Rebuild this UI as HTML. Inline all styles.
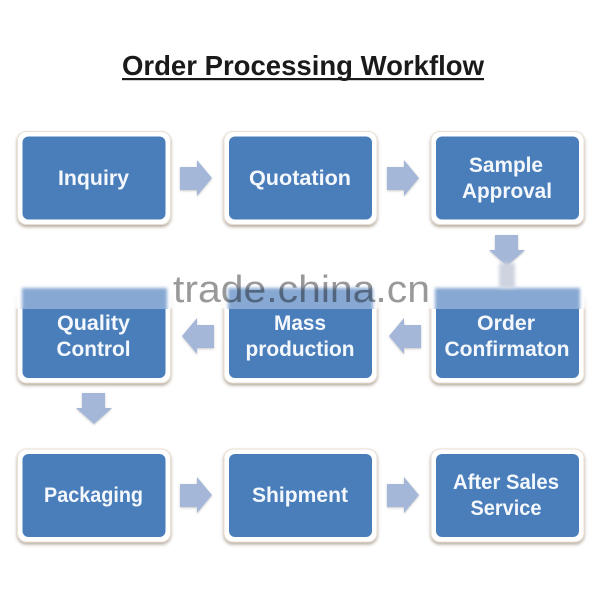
<!DOCTYPE html>
<html><head><meta charset="utf-8"><style>
html,body{margin:0;padding:0;background:#fff;width:600px;height:600px;overflow:hidden}
svg{display:block}
text{font-family:"Liberation Sans",sans-serif}
.t{fill:#f4f8fc;font-weight:bold;font-size:21px;text-anchor:middle}
</style></head><body>
<svg width="600" height="600" viewBox="0 0 600 600" xmlns="http://www.w3.org/2000/svg">
<defs>
<filter id="s" x="-10%" y="-10%" width="120%" height="125%"><feDropShadow dx="0" dy="2" stdDeviation="1.5" flood-color="#8a7a68" flood-opacity=".65"/></filter>
<filter id="a" x="-20%" y="-20%" width="140%" height="140%"><feDropShadow dx="0" dy="1" stdDeviation="1" flood-color="#777" flood-opacity=".4"/></filter>
<filter id="b" x="-50%" y="-30%" width="200%" height="160%"><feGaussianBlur stdDeviation="1.8"/></filter>
<filter id="c" x="-10%" y="-30%" width="120%" height="160%"><feGaussianBlur stdDeviation="1.6"/></filter>
<clipPath id="band"><rect x="0" y="270" width="600" height="39"/></clipPath>
<g id="box"><rect x="0" y="0" width="153" height="93" rx="9" fill="#fff" stroke="#eadfd3" stroke-width="1" filter="url(#s)"/><rect x="5" y="5" width="143" height="83" rx="6" fill="#4a7ebb"/></g>
<path id="ar" d="M0 7H17V0L32 18L17 36V30H0Z" fill="#a5b7d8" filter="url(#a)"/>
<path id="al" d="M32 7H15V0L0 18L15 36V30H32Z" fill="#a5b7d8" filter="url(#a)"/>
<path id="ad" d="M6 0H29V15H36L18 31L0 15H6Z" fill="#a5b7d8" filter="url(#a)"/>
<g id="bnd"><rect x="-3" y="-8" width="158" height="30" fill="#fff" filter="url(#c)"/><rect x="4" y="1" width="145" height="30" fill="#87a8d2" filter="url(#c)"/></g>
</defs>
<text x="303" y="75" font-size="27.5" font-weight="bold" fill="#1a1a1a" text-anchor="middle" textLength="362" lengthAdjust="spacingAndGlyphs">Order Processing Workflow</text>
<rect x="122" y="78" width="362" height="2.2" fill="#1a1a1a"/>

<use href="#box" x="17.500" y="131.500"/><use href="#box" x="224" y="131.500"/><use href="#box" x="431" y="131.500"/>
<use href="#box" x="17.500" y="290"/><use href="#box" x="224" y="290"/><use href="#box" x="431" y="290"/>
<use href="#box" x="17.500" y="449"/><use href="#box" x="224" y="449"/><use href="#box" x="431" y="449"/>

<use href="#ar" x="180" y="160"/><use href="#ar" x="387" y="160"/>
<use href="#ad" x="489" y="235"/>
<use href="#al" x="182" y="318"/><use href="#al" x="389" y="318"/>
<use href="#ad" x="76" y="393"/>
<use href="#ar" x="180" y="477"/><use href="#ar" x="387" y="477"/>

<g clip-path="url(#band)">
<use href="#bnd" x="18" y="287"/><use href="#bnd" x="224" y="287"/><use href="#bnd" x="431" y="287"/>
</g>
<rect x="499" y="263" width="16" height="25" fill="#cdd3df" filter="url(#b)"/>

<text class="t" x="93.500" y="185" textLength="71" lengthAdjust="spacingAndGlyphs">Inquiry</text>
<text class="t" x="300" y="185" textLength="102" lengthAdjust="spacingAndGlyphs">Quotation</text>
<text class="t" x="506" y="172" textLength="74" lengthAdjust="spacingAndGlyphs">Sample</text>
<text class="t" x="507" y="198" textLength="90" lengthAdjust="spacingAndGlyphs">Approval</text>
<text class="t" x="93.500" y="330" textLength="73" lengthAdjust="spacingAndGlyphs">Quality</text>
<text class="t" x="93.500" y="356" textLength="74" lengthAdjust="spacingAndGlyphs">Control</text>
<text class="t" x="300" y="330" textLength="52" lengthAdjust="spacingAndGlyphs">Mass</text>
<text class="t" x="300" y="356" textLength="109" lengthAdjust="spacingAndGlyphs">production</text>
<text class="t" x="506" y="330" textLength="58" lengthAdjust="spacingAndGlyphs">Order</text>
<text class="t" x="507" y="356" textLength="125" lengthAdjust="spacingAndGlyphs">Confirmaton</text>
<text class="t" x="93.500" y="502" textLength="99" lengthAdjust="spacingAndGlyphs">Packaging</text>
<text class="t" x="300" y="502" textLength="96" lengthAdjust="spacingAndGlyphs">Shipment</text>
<text class="t" x="506" y="489" textLength="106" lengthAdjust="spacingAndGlyphs">After Sales</text>
<text class="t" x="506" y="515" textLength="71" lengthAdjust="spacingAndGlyphs">Service</text>

<text x="173" y="302" font-size="38" fill="#000" fill-opacity=".4" textLength="257" lengthAdjust="spacingAndGlyphs">trade.china.cn</text>
</svg>
</body></html>
